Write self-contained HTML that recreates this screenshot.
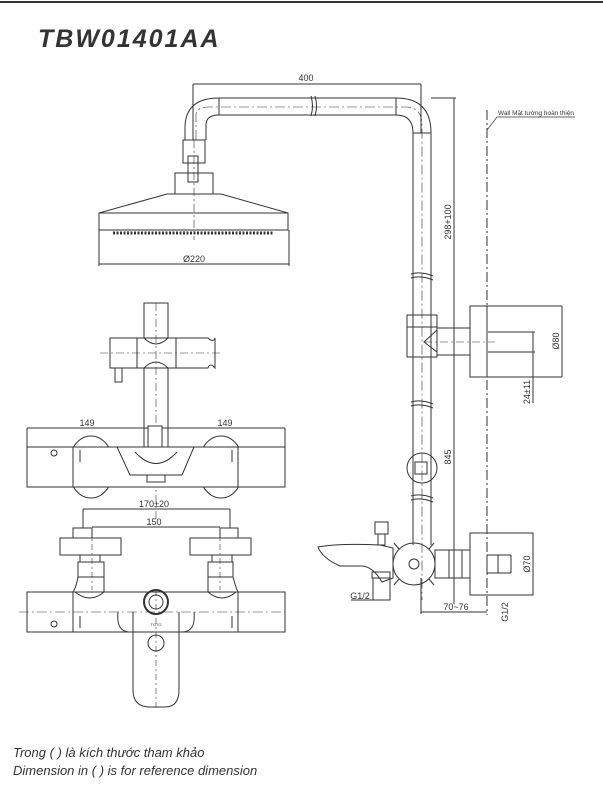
<!DOCTYPE html>
<html><head><meta charset="utf-8"><style>
html,body{margin:0;padding:0;background:#fff;width:603px;height:792px;overflow:hidden}
svg{display:block}
text{font-family:"Liberation Sans",sans-serif;fill:#333}
.d{font-size:9px}
</style></head><body>
<svg width="603" height="792" viewBox="0 0 603 792" xmlns="http://www.w3.org/2000/svg">
<line x1="0" y1="2" x2="603" y2="2" stroke="#333" stroke-width="2"/>
<text x="38" y="47" font-size="25" font-weight="bold" font-style="italic" letter-spacing="2" fill="#2a2a2a">TBW01401AA</text>
<g fill="none" stroke="#333" stroke-width="1">
<line x1="193" y1="84" x2="421" y2="84"/><line x1="193" y1="84" x2="193" y2="140"/><line x1="421" y1="84" x2="421" y2="133"/>
<path d="M185 140 L185 128 Q185 98 219 98 L396 98 Q431 98 431 133 L431 545"/>
<path d="M206 140 L206 125 Q206 115 219 115 L396 115 Q413 115 413 133 L413 545"/>
<line x1="219" y1="98" x2="219" y2="115"/><line x1="396" y1="98" x2="396" y2="115"/>
<line x1="413" y1="133" x2="431" y2="133"/>
<path d="M311 96 q3 10 0 20 M315 96 q3 10 0 20" stroke-width="1"/>
<path d="M196 140 V115 Q196 107 210 107 H405 Q422 107 422 125 V600" stroke-dasharray="10 3 2 3" stroke-width=".6"/>
<rect x="183" y="140" width="22" height="23"/><rect x="188" y="156" width="10" height="26"/>
<rect x="175" y="173" width="38" height="21"/>
<path d="M175 194 L167 194 L99 213 L288 213 L221 194 Z"/>
<rect x="99" y="213" width="189" height="17"/>
<line x1="113" y1="233" x2="273" y2="233" stroke-width="3" stroke-dasharray="2 1.5"/>
<line x1="99" y1="264" x2="289" y2="264"/><line x1="99" y1="230" x2="99" y2="266"/><line x1="289" y1="230" x2="289" y2="266"/>
<line x1="194" y1="140" x2="194" y2="240" stroke-dasharray="8 3 2 3" stroke-width=".6"/>
<line x1="454" y1="98" x2="454" y2="604"/><line x1="431" y1="98" x2="456" y2="98"/>
<line x1="487" y1="110" x2="487" y2="615" stroke-dasharray="10 3 2 3"/>
<path d="M487 130 L497 117 L575 117" stroke-width=".7"/>
<path d="M411 274 q10 -3 22 2 M411 278 q10 -3 22 2 M411 402 q10 -3 22 2 M411 406 q10 -3 22 2 M411 496 q10 -3 22 2 M411 500 q10 -3 22 2"/>
<rect x="407" y="315" width="30" height="42"/><line x1="407" y1="327" x2="437" y2="327"/>
<path d="M437 328 H470 M437 355 H470 M437 330 L424 342 L437 352"/>
<rect x="470" y="306" width="17" height="71"/>
<line x1="487" y1="306" x2="562" y2="306"/><line x1="487" y1="377" x2="562" y2="377"/><line x1="562" y1="306" x2="562" y2="377"/>
<line x1="488" y1="332" x2="521" y2="332"/><line x1="488" y1="352" x2="521" y2="352"/>
<line x1="521" y1="332" x2="535" y2="332"/><line x1="521" y1="352" x2="535" y2="352"/><line x1="533" y1="332" x2="533" y2="403"/>
<line x1="424" y1="342" x2="495" y2="342" stroke-dasharray="8 3 2 3" stroke-width=".6"/>
<ellipse cx="422" cy="468" rx="15" ry="15"/><rect x="415" y="462" width="12" height="12"/>
<circle cx="414" cy="564" r="21"/><circle cx="414" cy="564" r="5"/>
<path d="M399 549 l-5 -6 M429 549 l5 -6 M399 579 l-5 6 M429 579 l5 6"/>
<path d="M318 547 Q340 543 380 545 L393 548 L393 578 L382 582 Q372 565 360 566 L340 566 Q322 558 318 547 Z"/>
<rect x="375" y="522" width="13" height="12"/><rect x="378" y="534" width="7" height="11"/>
<rect x="372" y="572" width="18" height="6"/><rect x="373" y="578" width="17" height="22"/>
<line x1="351" y1="600" x2="390" y2="600"/>
<rect x="435" y="550" width="35" height="28"/><rect x="449" y="550" width="13" height="28"/>
<rect x="470" y="533" width="63" height="62"/>
<rect x="487" y="555" width="11" height="18"/><line x1="498" y1="555" x2="511" y2="555"/><line x1="498" y1="573" x2="511" y2="573"/><line x1="511" y1="555" x2="511" y2="573"/>
<line x1="533" y1="533" x2="533" y2="595"/>
<line x1="421" y1="578" x2="421" y2="614"/><line x1="421" y1="612" x2="487" y2="612"/>
<rect x="144" y="303" width="24" height="144"/>
<rect x="110" y="338" width="27" height="30"/><rect x="137" y="338" width="39" height="30" fill="#fff"/>
<path d="M176 338 H208 Q213 343 215 338 V368 Q210 362 208 368 H176"/>
<path d="M144 338 Q156 350 168 338 M144 368 Q156 356 168 368"/>
<rect x="115" y="368" width="7" height="14"/>
<line x1="100" y1="353" x2="222" y2="353" stroke-dasharray="8 3 2 3" stroke-width=".6"/>
<line x1="156" y1="303" x2="156" y2="520" stroke-dasharray="8 3 2 3" stroke-width=".6"/>
<line x1="27" y1="428" x2="285" y2="428"/>
<ellipse cx="91" cy="467" rx="23" ry="31" fill="#fff"/><ellipse cx="221" cy="467" rx="23" ry="31" fill="#fff"/>
<rect x="27" y="447" width="258" height="40" fill="#fff"/>
<line x1="27" y1="428" x2="27" y2="447"/><line x1="285" y1="428" x2="285" y2="447"/>
<line x1="73" y1="447" x2="73" y2="487"/><line x1="238" y1="447" x2="238" y2="487"/>
<path d="M117 447 L194 447 L182 475 L130 475 Z"/><path d="M135 452 Q156 475 177 452"/>
<rect x="147" y="475" width="18" height="7"/><rect x="148" y="426" width="14" height="21" fill="#fff"/>
<circle cx="54" cy="453" r="3"/><line x1="80" y1="450" x2="80" y2="462"/><line x1="232" y1="450" x2="232" y2="462"/>
<line x1="83" y1="509" x2="230" y2="509"/><line x1="83" y1="509" x2="83" y2="528"/><line x1="230" y1="509" x2="230" y2="528"/>
<line x1="92" y1="527" x2="220" y2="527"/>
<rect x="73" y="528" width="19" height="10"/><rect x="220" y="528" width="18" height="10"/>
<rect x="60" y="538" width="61" height="17"/><rect x="190" y="538" width="61" height="17"/>
<rect x="80" y="555" width="20" height="7"/><rect x="212" y="555" width="20" height="7"/>
<rect x="78" y="562" width="26" height="15"/><rect x="208" y="562" width="25" height="15"/>
<path d="M78 577 Q76 588 73 592 M104 577 V592 M208 577 V592 M233 577 Q236 588 238 592"/>
<path d="M75 592 Q90 604 104 592 M208 592 Q222 604 236 592"/>
<rect x="27" y="592" width="258" height="40"/>
<line x1="73" y1="592" x2="73" y2="632"/><line x1="238" y1="592" x2="238" y2="632"/>
<line x1="19" y1="612" x2="285" y2="612" stroke-dasharray="10 3 2 3" stroke-width=".6"/>
<line x1="92" y1="530" x2="92" y2="590" stroke-dasharray="6 3 2 3" stroke-width=".6"/><line x1="220" y1="530" x2="220" y2="590" stroke-dasharray="6 3 2 3" stroke-width=".6"/>
<circle cx="156" cy="602" r="12" stroke-width="2"/><circle cx="156" cy="602" r="7"/>
<path d="M133 612 V690 Q133 707 150 707 H165 Q179 707 179 690 V612"/>
<path d="M118 612 Q116 632 130 632 M194 612 Q196 632 182 632"/>
<circle cx="156" cy="643" r="8"/>
<line x1="156" y1="590" x2="156" y2="710" stroke-dasharray="6 3 2 3" stroke-width=".6"/>
<circle cx="54" cy="624" r="3"/><line x1="80" y1="616" x2="80" y2="628"/><line x1="232" y1="616" x2="232" y2="628"/>
</g>
<text class="d" x="306" y="81" text-anchor="middle">400</text>
<text class="d" x="194" y="262" text-anchor="middle">Ø220</text>
<text x="498" y="115" font-size="6" textLength="76" lengthAdjust="spacingAndGlyphs">Wall Mặt tường hoàn thiện</text>
<text class="d" transform="translate(451,222) rotate(-90)" text-anchor="middle">298+100</text>
<text class="d" transform="translate(451,457) rotate(-90)" text-anchor="middle">845</text>
<text class="d" transform="translate(559,341) rotate(-90)" text-anchor="middle">Ø80</text>
<text class="d" transform="translate(530,392) rotate(-90)" text-anchor="middle">24±11</text>
<text class="d" transform="translate(530,564) rotate(-90)" text-anchor="middle">Ø70</text>
<text class="d" transform="translate(508,612) rotate(-90)" text-anchor="middle">G1/2</text>
<text class="d" x="360" y="599" text-anchor="middle">G1/2</text>
<text class="d" x="456" y="610" text-anchor="middle">70~76</text>
<text class="d" x="87" y="426" text-anchor="middle">149</text>
<text class="d" x="225" y="426" text-anchor="middle">149</text>
<text class="d" x="154" y="507" text-anchor="middle">170±20</text>
<text class="d" x="154" y="525" text-anchor="middle">150</text>
<text x="156" y="626" font-size="4" text-anchor="middle">TOTO</text>
<text x="13" y="757" font-size="13" font-style="italic">Trong ( ) là kích thước tham khảo</text>
<text x="13" y="775" font-size="13" font-style="italic">Dimension in ( ) is for reference dimension</text>
</svg>
</body></html>
